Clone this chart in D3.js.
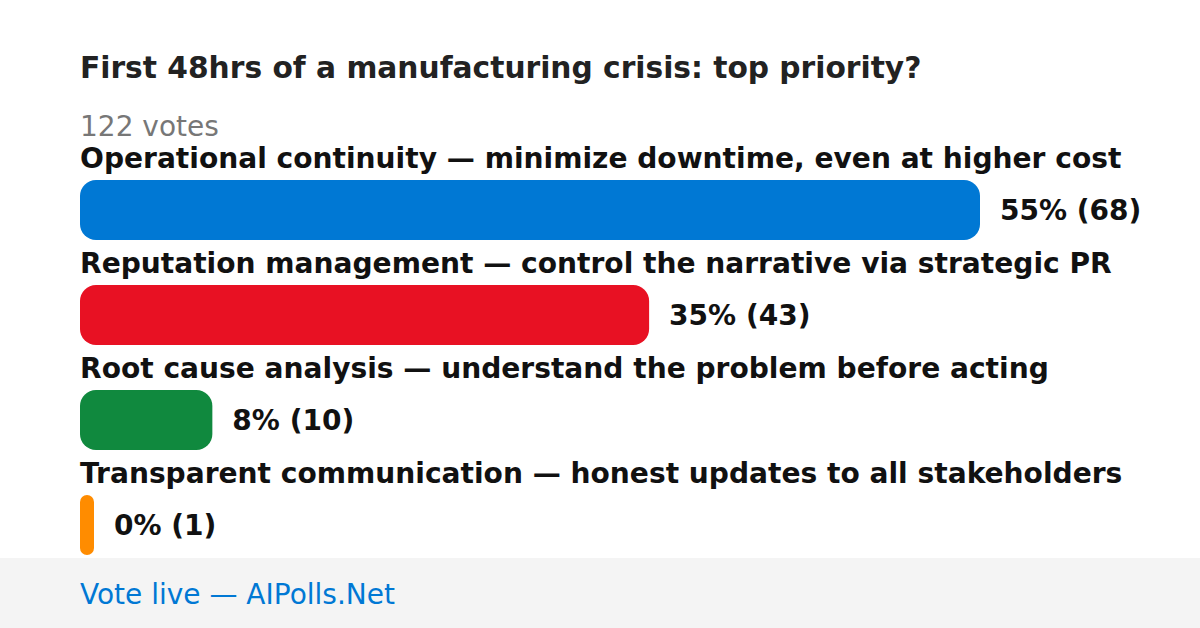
<!DOCTYPE html>
<html><head><meta charset="utf-8">
<script src="https://cdn.jsdelivr.net/npm/d3@7"></script>
<style>html,body{margin:0;padding:0;background:#fff;}svg{display:block;font-family:"DejaVu Sans",sans-serif;}</style>
</head><body>
<script>
const title = "First 48hrs of a manufacturing crisis: top priority?";
const totalLabel = "122 votes";
const categories = [
  "Operational continuity — minimize downtime, even at higher cost",
  "Reputation management — control the narrative via strategic PR",
  "Root cause analysis — understand the problem before acting",
  "Transparent communication — honest updates to all stakeholders"
];
const votes = [68, 43, 10, 1];
const colors = ["#0078d4", "#e81123", "#10893e", "#ff8c00"];
const footerText = "Vote live — AIPolls.Net";

const W = 1200, H = 628;
const total = d3.sum(votes);
const svg = d3.select("body").append("svg").attr("width", W).attr("height", H);
svg.append("rect").attr("width", W).attr("height", H).attr("fill", "#fff");

svg.append("text").attr("x", 80).attr("y", 78).attr("font-size", 29.7).attr("font-weight", "bold")
  .attr("fill", "#222").text(title);
svg.append("text").attr("x", 80).attr("y", 136).attr("font-size", 28).attr("fill", "#777").text(totalLabel);

const x = d3.scaleLinear().domain([0, d3.max(votes)]).range([0, 900]);
const y = d3.scaleBand().domain(d3.range(categories.length)).range([145, 565]).padding(0);
const barH = 60, minW = 14;

const g = svg.selectAll("g.row").data(categories).join("g").attr("class", "row")
  .attr("transform", (d, i) => `translate(0,${y(i)})`);
g.append("text").attr("x", 80).attr("y", 23).attr("font-size", 28.1).attr("font-weight", "bold")
  .attr("fill", "#111").text(d => d);
g.append("rect").attr("x", 80).attr("y", 35).attr("height", barH)
  .attr("width", (d, i) => Math.max(minW, x(votes[i])))
  .attr("rx", (d, i) => Math.min(16, Math.max(minW, x(votes[i])) / 2))
  .attr("fill", (d, i) => colors[i]);
g.append("text").attr("x", (d, i) => 80 + Math.max(minW, x(votes[i])) + 20)
  .attr("y", 35 + barH / 2).attr("dy", "0.35em").attr("font-size", 28).attr("font-weight", "bold")
  .attr("fill", "#111").text((d, i) => `${Math.floor(votes[i] / total * 100)}% (${votes[i]})`);

svg.append("rect").attr("x", 0).attr("y", 558).attr("width", W).attr("height", 70).attr("fill", "#f4f4f4");
svg.append("text").attr("x", 80).attr("y", 604).attr("font-size", 28).attr("fill", "#0078d4").text(footerText);
</script>
</body></html>
